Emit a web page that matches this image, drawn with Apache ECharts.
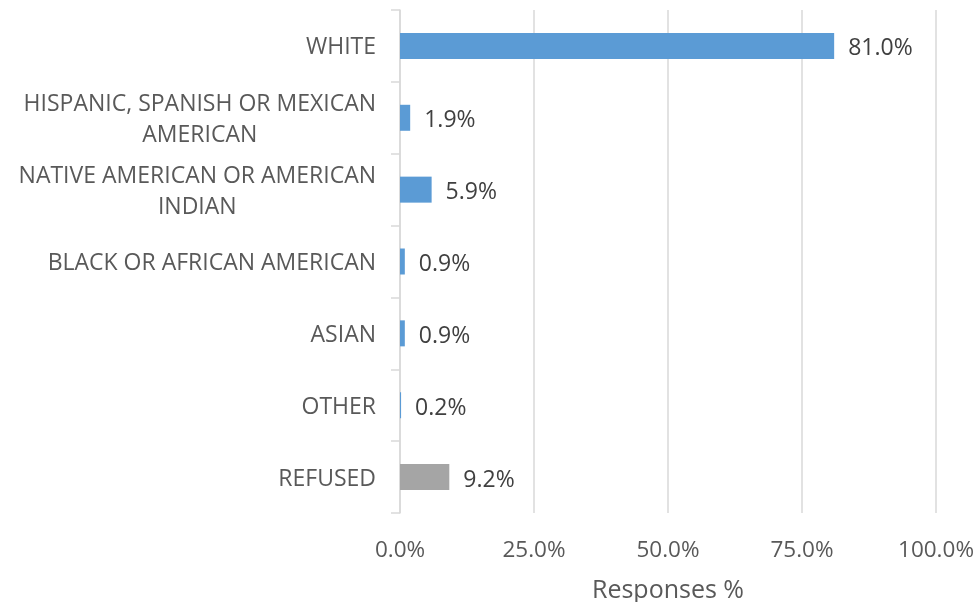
<!DOCTYPE html>
<html><head><meta charset="utf-8">
<script src="https://cdn.jsdelivr.net/npm/echarts@6/dist/echarts.min.js"></script>
<style>html,body{margin:0;padding:0;background:#fff}#c{width:979px;height:602px}</style>
</head><body><div id="c"></div>
<script>
const categories = ["WHITE", "HISPANIC, SPANISH OR MEXICAN\nAMERICAN", "NATIVE AMERICAN OR AMERICAN\nINDIAN", "BLACK OR AFRICAN AMERICAN", "ASIAN", "OTHER", "REFUSED"];
const values = [81.0, 1.9, 5.9, 0.9, 0.9, 0.2, 9.2];
const barColors = ["#5B9BD5", "#5B9BD5", "#5B9BD5", "#5B9BD5", "#5B9BD5", "#5B9BD5", "#A5A5A5"];
const xTicks = [0, 25, 50, 75, 100];
const FONT = "Open Sans";

const chart = echarts.init(document.getElementById('c'), null, {renderer: 'canvas'});
chart.setOption({
  animation: false,
  backgroundColor: '#fff',
  grid: {left: 400, right: 43, top: 10, bottom: 89, containLabel: false, outerBoundsMode: 'none'},
  xAxis: {
    type: 'value', min: xTicks[0], max: xTicks[xTicks.length - 1], interval: 25,
    axisLine: {show: false}, axisTick: {show: false},
    splitLine: {show: true, lineStyle: {color: '#D9D9D9', width: 1.5}},
    axisLabel: {margin: 26, color: '#595959', fontFamily: FONT, fontSize: 22.5, formatter: v => v.toFixed(1) + '%'},
    name: 'Responses %', nameLocation: 'middle', nameGap: 65,
    nameTextStyle: {color: '#595959', fontFamily: FONT, fontSize: 25}
  },
  yAxis: {
    type: 'category', inverse: true, data: categories,
    axisLine: {show: true, lineStyle: {color: '#D9D9D9', width: 1.5}},
    axisTick: {show: true, length: 9, lineStyle: {color: '#D9D9D9', width: 1.5}},
    axisLabel: {
      margin: 24, color: '#595959', fontFamily: FONT, fontSize: 23, lineHeight: 31, padding: [4, 0, 0, 0],
      formatter: v => v.split('\n').map(s => '{c|' + s + '}').join('\n'),
      rich: {c: {align: 'center', color: '#595959', fontFamily: FONT, fontSize: 23, lineHeight: 31}}
    }
  },
  series: [{
    type: 'bar', barWidth: 26,
    data: values.map((v, i) => ({value: v, itemStyle: {color: barColors[i]}})),
    label: {show: true, position: 'right', distance: 14, offset: [0, 3], color: '#404040', fontFamily: FONT, fontSize: 23,
      formatter: p => p.value.toFixed(1) + '%'}
  }]
});
</script></body></html>
